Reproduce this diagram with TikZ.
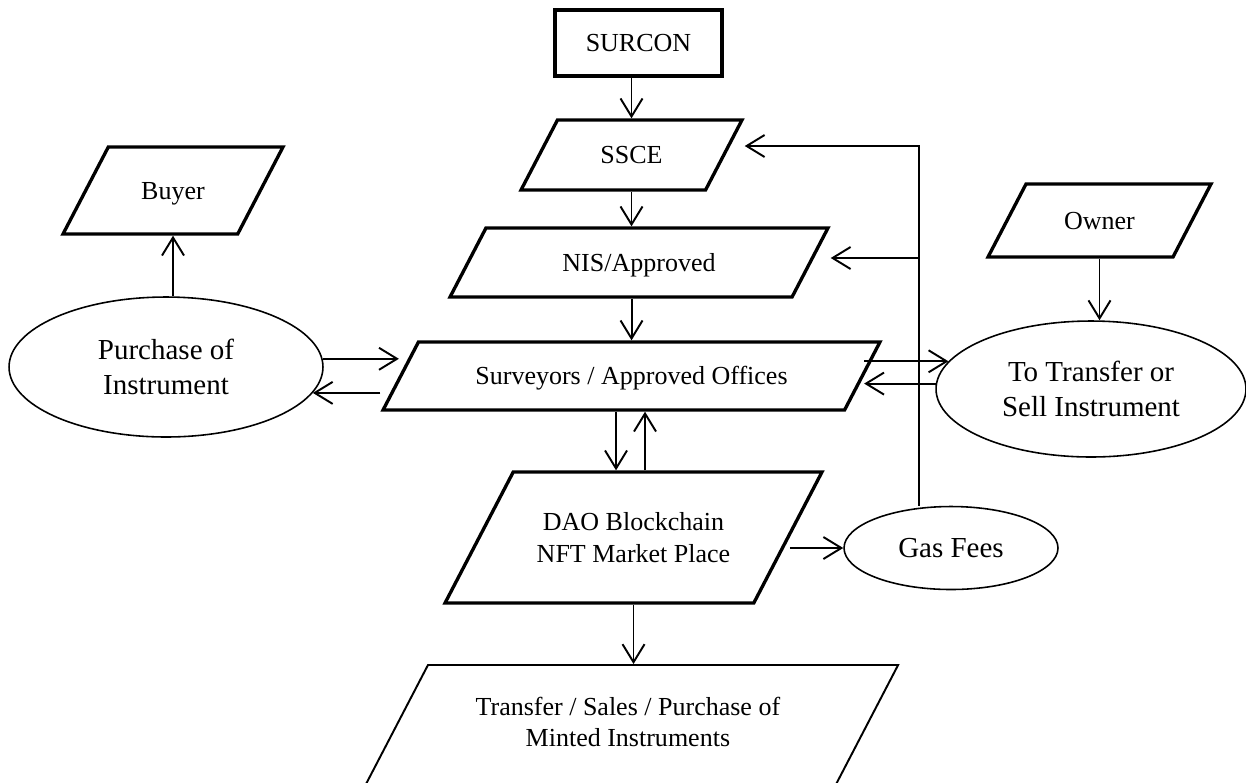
\documentclass[tikz,border=0pt]{standalone}
\usepackage{fontspec}
\setmainfont{Liberation Serif}
\usetikzlibrary{shapes.geometric,arrows.meta}

\begin{document}
\begin{tikzpicture}[x=0.02cm,y=-0.02cm,
  box_style/.style={draw=black,line width=1.9pt,align=center,inner sep=0pt,
    font=\fontsize{14.8pt}{18.2pt}\selectfont},
  para_style/.style={box_style,trapezium,trapezium left angle=62.5,
    trapezium right angle=117.5,trapezium stretches body,
    text height=0.35cm,text depth=0cm},
  oval_style/.style={ellipse,draw=black,line width=0.9pt,align=center,inner sep=0pt,
    font=\fontsize{16.5pt}{20.3pt}\selectfont},
  edge_style/.style={draw=black,line width=1.1pt,-{Straight Barb[length=3.6mm,width=4.4mm]}}]
  \clip (0,0) rectangle (1246,782);
  \node[box_style,rectangle,minimum width=3.34cm,minimum height=1.32cm] (surcon) at (638.5,43) {SURCON};
  \node[para_style,minimum width=4.42cm,inner ysep=0.525cm] (ssce) at (631.5,155) {SSCE};
  \node[para_style,minimum width=7.56cm,inner ysep=0.515cm] (nis) at (639,262.5) {NIS/Approved};
  \node[para_style,minimum width=9.94cm,inner ysep=0.505cm] (sur) at (631.5,376) {Surveyors / Approved Offices};
  \node[para_style,minimum width=7.54cm,inner ysep=0.82cm,text width=4.2cm,text depth=0.63cm,
    align=flush center] (dao) at (633.5,537.5) {DAO Blockchain\\NFT Market Place};
  \node[para_style,line width=1.1pt,minimum width=10.81cm,inner ysep=0.55cm,text width=7cm,
    text height=0.45cm,text depth=1.15cm,align=flush center] (trans) at (627.9,732.5)
    {Transfer / Sales / Purchase of\\Minted Instruments};
  \node[para_style,minimum width=4.4cm,inner ysep=0.695cm] (buyer) at (173,190.5) {Buyer};
  \node[para_style,minimum width=4.46cm,inner ysep=0.555cm] (owner) at (1099.5,220.5) {Owner};
  \node[oval_style,minimum width=6.28cm,minimum height=2.8cm] (pur) at (166,367) {Purchase of\\Instrument};
  \node[oval_style,minimum width=6.2cm,minimum height=2.72cm] (tr) at (1091,389) {To Transfer or\\Sell Instrument};
  \node[oval_style,minimum width=4.28cm,minimum height=1.66cm] (gas) at (951,548) {Gas Fees};
  \coordinate (bend) at (919,146);
  \coordinate (fork) at (919,258);
  % main column
  \draw[edge_style] (ssce.north |- surcon.south) -- (ssce.north);
  \draw[edge_style] (ssce.south) -- (ssce.south |- nis.north);
  \draw[edge_style] (sur.north |- nis.south) -- (sur.north);
  \draw[edge_style] ([xshift=-0.35cm]dao.north |- sur.south) -- ([xshift=-0.35cm]dao.north);
  \draw[edge_style] ([xshift=0.23cm]dao.north) -- ([xshift=0.23cm]dao.north |- sur.south);
  \draw[edge_style] (dao.south) -- (dao.south |- trans.north);
  % gas fees loop
  \draw[edge_style] (dao.right side |- gas.west) -- (gas.west);
  \draw[edge_style] (gas.north -| bend) -- (bend) -- (bend -| ssce.top right corner);
  \draw[edge_style] (fork) -- (fork -| nis.top right corner);
  % buyer and owner sides
  \draw[edge_style] (owner.south) -- (owner.south |- tr.north);
  \draw[edge_style] (pur.north -| buyer.south) -- (buyer.south);
  \draw[edge_style] (pur.3) -- (pur.3 -| sur.left side);
  \draw[edge_style] (pur.-10 -| sur.bottom left corner) -- (pur.-10);
  \draw[edge_style] (tr.169 -| sur.right side) -- (tr.169);
  \draw[edge_style] (tr.178) -- (tr.178 -| sur.right side);
\end{tikzpicture}
\end{document}
